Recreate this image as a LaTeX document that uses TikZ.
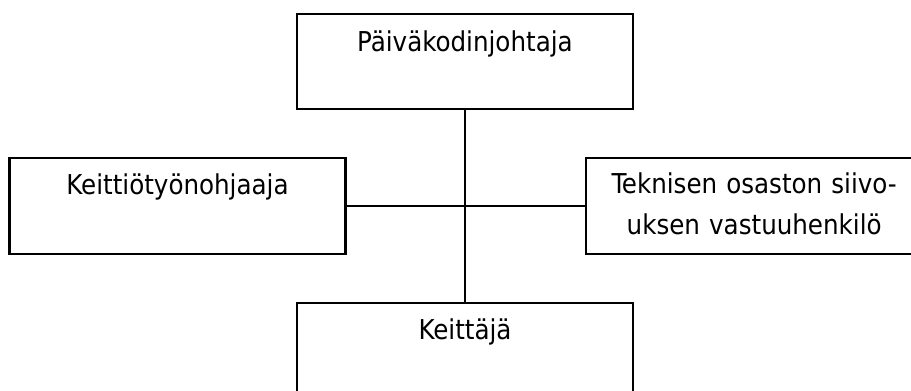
\documentclass[tikz,border=0pt]{standalone}
\usepackage{fontspec}
\setmainfont{DejaVu Sans Condensed}

\tikzset{
  laatikko/.style={draw, line width=1.8pt, inner sep=0pt, text width=252pt,
    align=center, font=\fontsize{20.5pt}{30.75pt}\selectfont},
  viiva/.style={line width=1.8pt}
}

\begin{document}
\begin{tikzpicture}[x=0.75pt,y=-0.75pt]
\useasboundingbox (0,0) rectangle (911,391);
\clip (0,0) rectangle (911,391);
% laatikot
\node[laatikko, text height=27.75pt, text depth=43.5pt, anchor=north] (johtaja) at (465,13) {Päiväkodinjohtaja};
\node[laatikko, text height=27pt, text depth=45pt, anchor=north] (ohjaaja) at (177.5,157) {Keittiötyönohjaaja};
\node[laatikko, text height=26.25pt, text depth=45.75pt, anchor=north west] (siivous) at (585,157) {Teknisen osaston siivo-\\uksen vastuuhenkilö};
\node[laatikko, text height=27pt, text depth=44.25pt, anchor=north] (keittaja) at (465,302) {Keittäjä};
% viivat
\draw[viiva] (johtaja.south) -- (keittaja.north);
\draw[viiva] (ohjaaja.east) -- (siivous.west);
\end{tikzpicture}
\end{document}
